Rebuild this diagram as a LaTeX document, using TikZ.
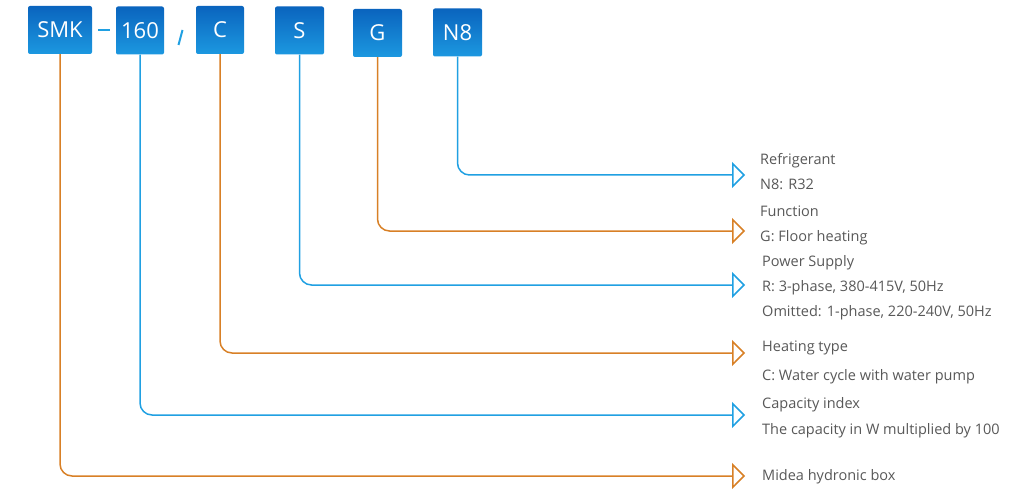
\documentclass[tikz,border=0pt]{standalone}
\usepackage{fontspec}
\setmainfont{Open Sans}
\usetikzlibrary{arrows.meta}

\definecolor{codedark}{RGB}{10,100,190}
\definecolor{codelight}{RGB}{28,152,224}
\definecolor{lineblue}{RGB}{32,160,226}
\definecolor{lineorange}{RGB}{216,128,38}
\definecolor{textgray}{RGB}{88,88,88}

\begin{document}
\begin{tikzpicture}[x=1pt, y=-1pt,
  codebox/.style={top color=codedark, bottom color=codelight, rounded corners=2pt, minimum height=48pt, inner sep=0pt, text=white, font=\fontsize{22}{22}\selectfont},
  link/.style={line width=1.5pt, rounded corners=12pt, -{Triangle[open, length=13pt, width=26pt]}},
  bluelink/.style={link, draw=lineblue},
  orangelink/.style={link, draw=lineorange},
  legend/.style={anchor=mid west, inner sep=0pt, text=textgray, font=\fontsize{14.5}{14.5}\selectfont}]
\useasboundingbox (0,0) rectangle (1017,489);

% code boxes
\node[codebox, minimum width=64pt] (smk) at (60,30) {SMK};
\node[codebox, minimum width=48pt] (cap) at (140,30.5) {160};
\node[codebox, minimum width=48pt] (heat) at (220,30) {C};
\node[codebox, minimum width=49pt] (power) at (299.5,30.5) {S};
\node[codebox, minimum width=49pt] (func) at (377.5,33) {G};
\node[codebox, minimum width=49pt] (refr) at (457.5,32.5) {N8};

% separators
\draw[lineblue, line width=2pt] (98,30) -- (110,30);
\draw[lineblue, line width=2pt] (178.5,45) -- (182.5,30);

% arrow ends
\coordinate (refr-end) at (745,175);
\coordinate (func-end) at (745,231);
\coordinate (power-end) at (745,285);
\coordinate (heat-end) at (745,353);
\coordinate (cap-end) at (745,415);
\coordinate (smk-end) at (745,476);

\draw[bluelink] (refr.south) |- (refr-end);
\draw[orangelink] (func.south) |- (func-end);
\draw[bluelink] (power.south) |- (power-end);
\draw[orangelink] (heat.south) |- (heat-end);
\draw[bluelink] (cap.south) |- (cap-end);
\draw[orangelink] (smk.south) |- (smk-end);

% legend texts
\node[legend] (refr-title) at (760,162) {Refrigerant};
\node[legend] (refr-val) at (760,187) {N8: R32};
\node[legend] (func-title) at (760,214) {Function};
\node[legend] (func-val) at (760,239) {G: Floor heating};
\node[legend] (power-title) at (762,264) {Power Supply};
\node[legend] (power-val) at (762,289) {R: 3-phase, 380-415V, 50Hz};
\node[legend] (power-alt) at (762,314) {Omitted: 1-phase, 220-240V, 50Hz};
\node[legend] (heat-title) at (762,349) {Heating type};
\node[legend] (heat-val) at (762,378) {C: Water cycle with water pump};
\node[legend] (cap-title) at (762,406) {Capacity index};
\node[legend] (cap-val) at (762,432) {The capacity in W multiplied by 100};
\node[legend] (smk-title) at (762,478) {Midea hydronic box};
\end{tikzpicture}
\end{document}
